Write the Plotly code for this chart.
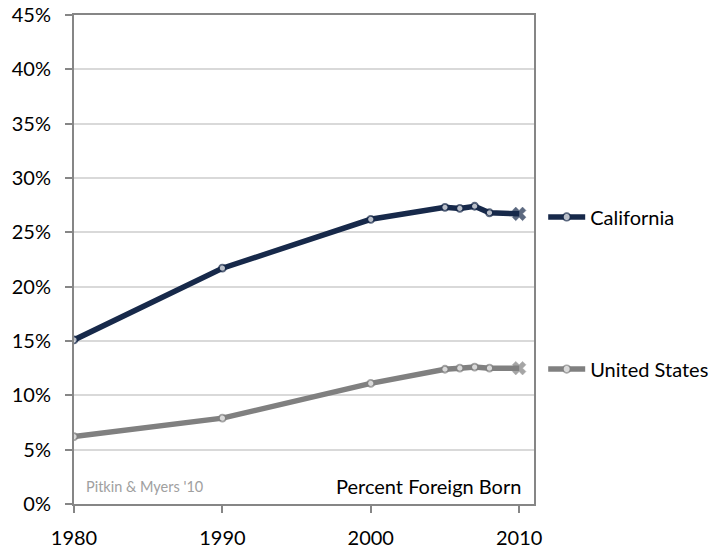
import plotly.graph_objects as go

years = [1980, 1990, 2000, 2005, 2006, 2007, 2008, 2010]
california = [15.1, 21.7, 26.2, 27.3, 27.2, 27.4, 26.8, 26.7]
united_states = [6.2, 7.9, 11.1, 12.4, 12.5, 12.6, 12.5, 12.5]
y_ticks = [0, 5, 10, 15, 20, 25, 30, 35, 40, 45]
y_tick_labels = [f"{v}%" for v in y_ticks]
x_ticks = [1980, 1990, 2000, 2010]

CA_COLOR = "#17294a"
US_COLOR = "#808080"
FONT = "Lato, 'Open Sans', sans-serif"

def series(name, ys, color, legend):
    n = len(ys)
    symbols = ["circle"] * (n - 1) + ["x"]
    fills = ["white"] * (n - 1) + [color]
    sizes = [7] * (n - 1) + [12]
    widths = [1.8] * (n - 1) + [0.5]
    return go.Scatter(
        x=years, y=ys, name=name, mode="lines+markers",
        line=dict(color=color, width=5.5),
        marker=dict(symbol=symbols, color=fills, size=sizes,
                    line=dict(color=color, width=widths)),
        legend=legend, showlegend=True,
    )

fig = go.Figure()
fig.add_trace(series("California", california, CA_COLOR, "legend"))
fig.add_trace(series("United States", united_states, US_COLOR, "legend2"))

legend_common = dict(font=dict(family=FONT, size=20, color="black"),
                     bgcolor="rgba(0,0,0,0)", xanchor="left", yanchor="middle",
                     itemwidth=37, tracegroupgap=0)
fig.update_layout(
    width=726, height=553,
    margin=dict(l=74, r=190, t=15, b=49),
    plot_bgcolor="white", paper_bgcolor="white",
    showlegend=True,
    font=dict(family=FONT, size=20, color="black"),
    legend=dict(x=1.02, y=0.587, **legend_common),
    legend2=dict(x=1.02, y=0.276, **legend_common),
    xaxis=dict(range=[1980, 2011], tickvals=x_ticks, ticks="outside", ticklen=7,
               tickcolor="#868686", tickwidth=2, showline=True, linecolor="#868686",
               linewidth=2, mirror=True, showgrid=False, zeroline=False,
               ticklabelstandoff=8, tickfont=dict(size=20), automargin=False,
               ticklabeloverflow="allow"),
    yaxis=dict(range=[0, 45], tickvals=y_ticks, ticktext=y_tick_labels, ticks="outside",
               ticklen=7, tickcolor="#868686", tickwidth=2, showline=True,
               linecolor="#868686", linewidth=2, mirror=True, showgrid=True,
               gridcolor="#d9d9d9", gridwidth=1.5, zeroline=False,
               ticklabelstandoff=10, tickfont=dict(size=20), automargin=False,
               ticklabeloverflow="allow"),
    annotations=[
        dict(text="Pitkin & Myers '10", x=0.022, y=0.015, xref="paper", yref="paper",
             xanchor="left", yanchor="bottom", showarrow=False,
             font=dict(family=FONT, size=14.5, color="#a0a0a0")),
        dict(text="Percent Foreign Born", x=0.975, y=0.008, xref="paper", yref="paper",
             xanchor="right", yanchor="bottom", showarrow=False,
             font=dict(family=FONT, size=20, color="black")),
    ],
)

fig.write_html("out.html", config={"displayModeBar": False},
               post_script="document.body.style.margin='0';")
